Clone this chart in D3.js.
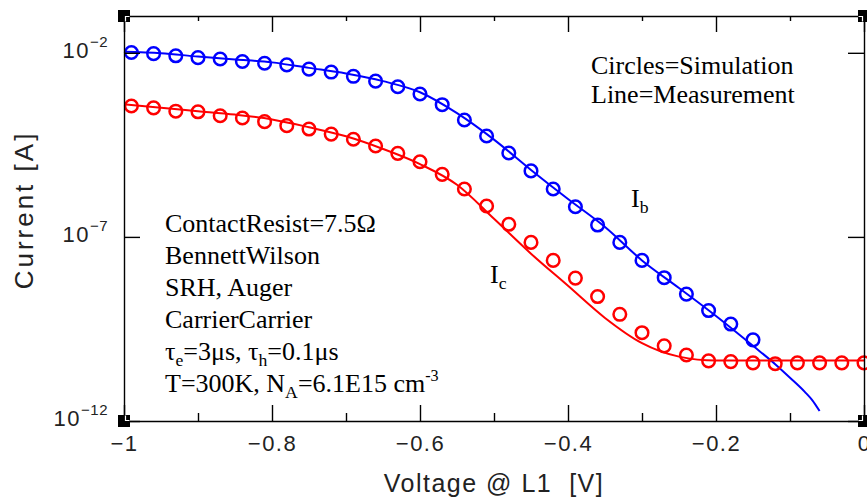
<!DOCTYPE html>
<html>
<head>
<meta charset="utf-8">
<script src="https://cdn.jsdelivr.net/npm/d3@7/dist/d3.min.js"></script>
<style>
  html, body { margin: 0; padding: 0; background: #fff; }
  svg { display: block; }
</style>
</head>
<body>
<svg id="chart" width="867" height="502"></svg>
<script>
// ---------------- DATA ----------------
// Simulation (circles): bias voltage of each circle
const simVoltage = [-0.99, -0.96, -0.93, -0.90, -0.87, -0.84, -0.81, -0.78, -0.75, -0.72,
  -0.69, -0.66, -0.63, -0.60, -0.57, -0.54, -0.51, -0.48, -0.45, -0.42,
  -0.39, -0.36, -0.33, -0.30, -0.27, -0.24, -0.21, -0.18, -0.15, -0.12,
  -0.09, -0.06, -0.03, 0.00];
// Ib simulation (first 29 voltages)
const simIb = [1.02e-2, 9.5e-3, 8.3e-3, 7.4e-3, 6.8e-3, 5.8e-3, 5.2e-3, 4.7e-3, 3.6e-3, 3.0e-3,
  2.3e-3, 1.7e-3, 1.2e-3, 7.6e-4, 3.9e-4, 1.5e-4, 5.5e-5, 1.9e-5, 6.2e-6, 2.0e-6,
  6.6e-7, 2.1e-7, 7.1e-8, 2.3e-8, 7.8e-9, 2.8e-9, 1.0e-9, 4.3e-10, 1.6e-10];
// Ic simulation (all 34 voltages)
const simIc = [3.6e-4, 3.2e-4, 2.6e-4, 2.5e-4, 1.95e-4, 1.7e-4, 1.35e-4, 1.05e-4, 8.5e-5, 6.2e-5,
  4.5e-5, 2.95e-5, 1.86e-5, 1.1e-5, 5.0e-6, 2.0e-6, 6.9e-7, 2.2e-7, 7.1e-8, 2.3e-8,
  7.6e-9, 2.4e-9, 7.9e-10, 2.5e-10, 1.1e-10, 6.2e-11, 4.3e-11, 4.1e-11, 3.8e-11, 3.6e-11,
  3.8e-11, 3.8e-11, 3.8e-11, 3.8e-11];

// Measurement (lines)
const measVoltageB = [-1.00, -0.95, -0.90, -0.85, -0.80, -0.75, -0.70, -0.65, -0.60, -0.55,
  -0.50, -0.45, -0.40, -0.35, -0.30, -0.25, -0.20, -0.15, -0.12, -0.10, -0.08, -0.07, -0.06];
const measIb = [1.07e-2, 9.8e-3, 7.9e-3, 6.6e-3, 5.5e-3, 3.9e-3, 2.75e-3, 1.7e-3, 8.5e-4, 2.3e-4,
  4.4e-5, 6.6e-6, 1.07e-6, 1.86e-7, 2.3e-8, 4.1e-9, 7.1e-10, 1.1e-10, 3.5e-11, 1.5e-11,
  6.2e-12, 3.7e-12, 1.86e-12];
const measVoltageC = [-1.00, -0.95, -0.90, -0.85, -0.80, -0.75, -0.70, -0.65, -0.60, -0.55,
  -0.50, -0.45, -0.40, -0.35, -0.30, -0.25, -0.20, -0.15, -0.10, -0.05, 0.00];
const measIc = [4.0e-4, 3.2e-4, 2.6e-4, 2.1e-4, 1.55e-4, 9.5e-5, 5.4e-5, 2.45e-5, 9.5e-6, 2.6e-6,
  3.1e-7, 3.5e-8, 4.7e-9, 6.3e-10, 1.3e-10, 5.6e-11, 4.4e-11, 4.4e-11, 4.4e-11, 4.4e-11, 4.4e-11];

// Axes
const xMajorTicks = [-1, -0.8, -0.6, -0.4, -0.2, 0];
const xMinorTicks = [-0.9, -0.7, -0.5, -0.3, -0.1];
const yMajorTicks = [1e-2, 1e-7, 1e-12];
const yTickExponents = ["−2", "−7", "−12"];
const xTitle = "Voltage @ L1  [V]";
const yTitle = "Current [A]";
const legendLines = ["Circles=Simulation", "Line=Measurement"];
const noteLines = [
  [{t: "ContactResist=7.5Ω"}],
  [{t: "BennettWilson"}],
  [{t: "SRH, Auger"}],
  [{t: "CarrierCarrier"}],
  [{t: "τ"}, {t: "e", s: "sub"}, {t: "=3μs, τ"}, {t: "h", s: "sub"}, {t: "=0.1μs"}],
  [{t: "T=300K, N"}, {t: "A", s: "sub"}, {t: "=6.1E15 cm"}, {t: "-3", s: "sup"}]
];

// ---------------- DRAWING ----------------
const svg = d3.select("#chart");
const L = 124, R = 864, T = 16, B = 421;
const x = d3.scaleLinear().domain([-1, 0]).range([L, R]);
const y = d3.scaleLog().domain([1e-12, 1e-1]).range([B, T]);

const BLUE = "#0000ff", RED = "#ff0000";
const sansFont = "'Liberation Sans', Arial, sans-serif";
const serifFont = "'Liberation Serif', 'Times New Roman', serif";

svg.append("defs").append("clipPath").attr("id", "clip")
  .append("rect").attr("x", L).attr("y", T).attr("width", R - L + 6).attr("height", B - T);

const line = d3.line().x(d => x(d[0])).y(d => y(d[1])).curve(d3.curveMonotoneX);

const plot = svg.append("g").attr("clip-path", "url(#clip)");

plot.append("path").datum(measVoltageB.map((v, i) => [v, measIb[i]]))
  .attr("d", line).attr("fill", "none").attr("stroke", BLUE).attr("stroke-width", 2);
plot.append("path").datum(measVoltageC.map((v, i) => [v, measIc[i]]))
  .attr("d", line).attr("fill", "none").attr("stroke", RED).attr("stroke-width", 2);

const simB = simIb.map((c, i) => [simVoltage[i], c]);
const simC = simIc.map((c, i) => [simVoltage[i], c]);

svg.append("g").selectAll("circle").data(simC).join("circle")
  .attr("cx", d => x(d[0])).attr("cy", d => y(d[1])).attr("r", 6.3)
  .attr("fill", "none").attr("stroke", RED).attr("stroke-width", 2.5);
svg.append("g").selectAll("circle").data(simB).join("circle")
  .attr("cx", d => x(d[0])).attr("cy", d => y(d[1])).attr("r", 6.3)
  .attr("fill", "none").attr("stroke", BLUE).attr("stroke-width", 2.5);

// Axes
function styleAxis(g) {
  g.select(".domain").attr("stroke", "#000").attr("stroke-width", 1.4);
  g.selectAll(".tick line").attr("stroke", "#000").attr("stroke-width", 1.4);
}
const fmtX = d => d === 0 ? "0" : (d < 0 ? "−" : "") + Math.abs(d);

const gBottom = svg.append("g").attr("transform", `translate(0,${B})`)
  .call(d3.axisBottom(x).tickValues(xMajorTicks).tickSize(-16).tickSizeOuter(0).tickPadding(14).tickFormat(fmtX));
gBottom.call(styleAxis);
gBottom.selectAll(".tick text").attr("font-family", sansFont).attr("font-size", 22)
  .attr("fill", "#222").attr("letter-spacing", "1.5px");
svg.append("g").attr("transform", `translate(0,${B})`)
  .call(d3.axisBottom(x).tickValues(xMinorTicks).tickSize(-8).tickSizeOuter(0).tickFormat(""))
  .call(styleAxis).select(".domain").remove();

svg.append("g").attr("transform", `translate(0,${T})`)
  .call(d3.axisTop(x).tickValues(xMajorTicks).tickSize(-16).tickSizeOuter(0).tickFormat(""))
  .call(styleAxis);
svg.append("g").attr("transform", `translate(0,${T})`)
  .call(d3.axisTop(x).tickValues(xMinorTicks).tickSize(-5).tickSizeOuter(0).tickFormat(""))
  .call(styleAxis).select(".domain").remove();

const gLeft = svg.append("g").attr("transform", `translate(${L},0)`)
  .call(d3.axisLeft(y).tickValues(yMajorTicks).tickSize(-16).tickSizeOuter(0).tickPadding(16).tickFormat(""));
gLeft.call(styleAxis);
gLeft.selectAll(".tick text").each(function(d, i) {
  const t = d3.select(this).attr("font-family", sansFont).attr("fill", "#222")
    .attr("text-anchor", "end").attr("dy", "0.45em");
  t.append("tspan").attr("font-size", 22).attr("letter-spacing", "1.5px").text("10");
  t.append("tspan").attr("font-size", 15).attr("dy", "-0.75em").attr("letter-spacing", "0.5px").text(yTickExponents[i]);
});

svg.append("g").attr("transform", `translate(${R},0)`)
  .call(d3.axisRight(y).tickValues(yMajorTicks).tickSize(-16).tickSizeOuter(0).tickFormat(""))
  .call(styleAxis);

// Corner squares with small white notch pointing into the plot
[[L, T, 1, 1], [R, T, -1, 1], [L, B, 1, -1], [R, B, -1, -1]].forEach(([cx, cy, sx, sy]) => {
  svg.append("rect").attr("x", cx - 6).attr("y", cy - 6).attr("width", 12).attr("height", 12).attr("fill", "#000");
  svg.append("path")
    .attr("d", `M${cx + sx * 1.5},${cy + sy * 5.5}L${cx + sx * 1.5},${cy + sy * 0.5}L${cx + sx * 5.5},${cy + sy * 0.5}`)
    .attr("fill", "none").attr("stroke", "#fff").attr("stroke-width", 1.2);
});

// Axis titles
svg.append("text").attr("x", (L + R) / 2).attr("y", 492)
  .attr("text-anchor", "middle").attr("font-family", sansFont).attr("font-size", 25)
  .attr("letter-spacing", "1.5px").attr("fill", "#222").style("white-space", "pre").text(xTitle);
svg.append("text").attr("transform", `translate(33,210) rotate(-90)`)
  .attr("text-anchor", "middle").attr("font-family", sansFont).attr("font-size", 26)
  .attr("letter-spacing", "3px").attr("fill", "#222").text(yTitle);

// Rich text helper
function richText(g, xPos, yPos, segs, size) {
  const t = g.append("text").attr("x", xPos).attr("y", yPos)
    .attr("font-family", serifFont).attr("font-size", size).attr("fill", "#000");
  let shift = 0;
  segs.forEach(s => {
    const sp = t.append("tspan").text(s.t);
    let target = 0;
    if (s.s === "sub") { sp.attr("font-size", size * 0.68); target = size * 0.22; }
    if (s.s === "sup") { sp.attr("font-size", size * 0.62); target = -size * 0.42; }
    if (target !== shift) { sp.attr("dy", target - shift); shift = target; }
  });
  return t;
}

const notes = svg.append("g");
noteLines.forEach((segs, i) => richText(notes, 165, 232 + i * 32, segs, 26));

legendLines.forEach((s, i) => richText(svg, 591, 74 + i * 29, [{t: s}], 26));

richText(svg, 631, 207, [{t: "I"}, {t: "b", s: "sub"}], 26);
richText(svg, 490, 283, [{t: "I"}, {t: "c", s: "sub"}], 26);
</script>
</body>
</html>
